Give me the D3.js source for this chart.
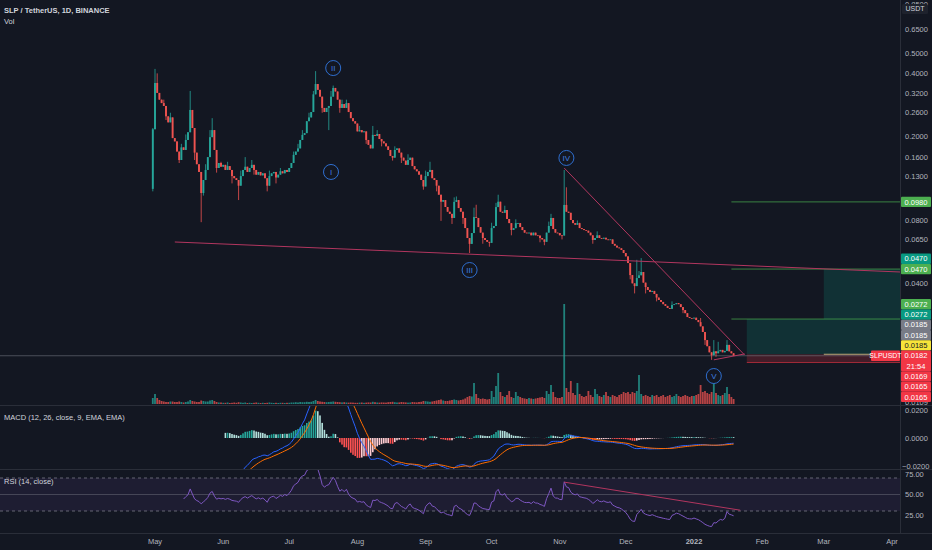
<!DOCTYPE html>
<html>
<head>
<meta charset="utf-8">
<script src="https://cdn.jsdelivr.net/npm/d3@7"></script>
<style>
  html, body { margin: 0; padding: 0; background: #131722; }
  svg { display: block; font-family: "Liberation Sans", Arial, sans-serif; }
</style>
</head>
<body>
<main></main>
<script>
const width = 932;
const height = 550;
const axisX = 900;
const mainPane = [0, 405];
const macdPane = [406, 469];
const rsiPane = [470, 533];

// daily SLP/USDT candles, first one on 30 Apr 2021
const startDay = Date.UTC(2021, 3, 30);
const firstOpen = 0.113;
const closes = [
  0.217, 0.360, 0.323, 0.300, 0.289, 0.280, 0.250, 0.234, 0.247, 0.197,
  0.190, 0.170, 0.155, 0.178, 0.173, 0.193, 0.210, 0.268, 0.220, 0.168,
  0.148, 0.136, 0.108, 0.1245, 0.139, 0.160, 0.199, 0.215, 0.173, 0.142,
  0.150, 0.144, 0.147, 0.139, 0.145, 0.139, 0.130, 0.127, 0.1245, 0.117,
  0.130, 0.139, 0.144, 0.136, 0.142, 0.147, 0.139, 0.132, 0.136, 0.131,
  0.134, 0.127, 0.117, 0.130, 0.134, 0.136, 0.128, 0.132, 0.137, 0.134,
  0.139, 0.136, 0.142, 0.150, 0.164, 0.170, 0.176, 0.193, 0.204, 0.208,
  0.237, 0.247, 0.262, 0.318, 0.356, 0.334, 0.310, 0.274, 0.262, 0.274,
  0.280, 0.310, 0.341, 0.328, 0.300, 0.274, 0.286, 0.274, 0.289, 0.262,
  0.245, 0.237, 0.231, 0.212, 0.215, 0.210, 0.212, 0.193, 0.183, 0.176,
  0.204, 0.202, 0.206, 0.195, 0.190, 0.186, 0.180, 0.173, 0.162, 0.159,
  0.173, 0.176, 0.168, 0.159, 0.154, 0.147, 0.155, 0.159, 0.145, 0.140,
  0.137, 0.132, 0.1245, 0.116, 0.130, 0.136, 0.139, 0.127, 0.1245, 0.117,
  0.106, 0.0982, 0.100, 0.0927, 0.088, 0.086, 0.0822, 0.098, 0.100, 0.0916,
  0.088, 0.0822, 0.0736, 0.066, 0.0619, 0.0697, 0.083, 0.0822, 0.0744, 0.0700,
  0.0660, 0.0646, 0.0633, 0.0626, 0.0736, 0.0753, 0.0926, 0.0982, 0.088, 0.087,
  0.0897, 0.0813, 0.0777, 0.0721, 0.0735, 0.0777, 0.0777, 0.0744, 0.0720, 0.0700,
  0.0697, 0.0700, 0.0680, 0.0700, 0.0680, 0.0678, 0.0660, 0.0650, 0.0633, 0.0700,
  0.0753, 0.0822, 0.0728, 0.0700, 0.0697, 0.0680, 0.0678, 0.0948, 0.0880, 0.0870,
  0.0804, 0.0777, 0.0763, 0.0777, 0.0736, 0.0728, 0.0720, 0.0715, 0.0700, 0.0680,
  0.0646, 0.0660, 0.0680, 0.0660, 0.0655, 0.0662, 0.0650, 0.0646, 0.0650, 0.0619,
  0.0607, 0.0595, 0.0590, 0.0579, 0.0560, 0.0540, 0.0502, 0.0440, 0.0402, 0.0390,
  0.0426, 0.0439, 0.0455, 0.0405, 0.0386, 0.0374, 0.0366, 0.0370, 0.0358, 0.0344,
  0.0335, 0.0328, 0.0320, 0.0314, 0.0307, 0.0304, 0.0317, 0.0320, 0.0324, 0.0320,
  0.0310, 0.0300, 0.0290, 0.0278, 0.0275, 0.0274, 0.0276, 0.0269, 0.0263, 0.0251,
  0.0236, 0.0216, 0.0202, 0.0189, 0.0183, 0.0191, 0.0187, 0.0191, 0.0194, 0.0189,
  0.0192, 0.0205, 0.0191, 0.0187, 0.0182
];
const volumes = [
  60, 100, 60, 40, 30, 25, 20, 20, 25, 25, 20, 20, 25, 20, 15, 20, 25, 40, 30, 25,
  20, 20, 35, 30, 25, 25, 35, 40, 30, 20, 15,
  15, 12, 12, 15, 10, 12, 15, 12, 18, 15, 12, 15, 10, 12, 10, 12, 15, 12, 10, 12,
  10, 12, 15, 12, 10, 12, 10, 12, 12, 10, 12,
  12, 15, 15, 18, 15, 20, 18, 18, 22, 20, 22, 30, 40, 30, 25, 22, 20, 18, 20, 22,
  25, 22, 20, 18, 16, 18, 15, 14, 15, 14, 12,
  12, 14, 15, 12, 14, 16, 15, 22, 18, 15, 14, 16, 15, 14, 18, 20, 22, 18, 15, 16,
  20, 18, 16, 14, 15, 20, 18, 16, 20, 22, 30,
  28, 25, 22, 25, 30, 35, 40, 45, 35, 30, 30, 35, 40, 45, 40, 35, 40, 45, 55, 70,
  80, 75, 210, 100, 60, 50, 55, 50, 45, 50,
  130, 70, 180, 310, 120, 80, 70, 90, 130, 70, 60, 120, 80, 70, 60, 55, 50, 60, 55, 50,
  55, 60, 65, 70, 60, 130, 100, 190, 120, 70, 60,
  60, 70, 1000, 160, 120, 230, 110, 90, 210, 100, 80, 70, 80, 130, 90, 70, 150, 100, 80, 70,
  90, 120, 80, 70, 90, 80, 70, 90, 100, 120,
  110, 120, 100, 120, 110, 130, 290, 100, 80, 90, 80, 70, 90, 80, 90, 70, 80, 90, 70, 80,
  90, 70, 80, 100, 80, 70, 80, 90, 80, 70, 80,
  80, 90, 100, 190, 120, 130, 110, 100, 120, 210, 110, 90, 80, 90, 110, 170, 100, 70, 50
];
// [day index, price] for the wicks that stick out of the bodies
const wickHighs = [
  [0, 0.22], [1, 0.42], [2, 0.40], [5, 0.30], [8, 0.26], [13, 0.185], [15, 0.205], [17, 0.33],
  [24, 0.148], [26, 0.215], [27, 0.245], [31, 0.152], [34, 0.152], [40, 0.138], [42, 0.16],
  [45, 0.155], [53, 0.138], [58, 0.142], [64, 0.17], [66, 0.185], [68, 0.215], [71, 0.26],
  [73, 0.33], [74, 0.41], [81, 0.33], [82, 0.35], [86, 0.30], [88, 0.30], [94, 0.225],
  [100, 0.225], [102, 0.215], [110, 0.18], [116, 0.165], [124, 0.138], [126, 0.152],
  [137, 0.103], [138, 0.104], [146, 0.092], [147, 0.095], [154, 0.078], [156, 0.097],
  [157, 0.106], [160, 0.094], [165, 0.081], [180, 0.079], [181, 0.086], [187, 0.139],
  [188, 0.115], [193, 0.080], [194, 0.078], [202, 0.071], [220, 0.052], [221, 0.046],
  [222, 0.053], [236, 0.033], [249, 0.0275], [255, 0.0216], [257, 0.0212], [261, 0.0216]
];
const wickLows = [
  [0, 0.11], [6, 0.24], [12, 0.150], [19, 0.155], [22, 0.0785], [23, 0.105], [29, 0.135],
  [36, 0.12], [39, 0.100], [46, 0.132], [52, 0.110], [56, 0.12], [77, 0.26], [80, 0.215],
  [85, 0.26], [97, 0.185], [104, 0.18], [109, 0.154], [113, 0.15], [123, 0.112], [129, 0.11],
  [131, 0.0796], [136, 0.077], [141, 0.077], [144, 0.056], [150, 0.062], [153, 0.060],
  [163, 0.068], [176, 0.063], [178, 0.061], [186, 0.065], [200, 0.062], [217, 0.042],
  [219, 0.036], [224, 0.036], [229, 0.033], [241, 0.029], [251, 0.0205], [254, 0.0174], [256, 0.018]
];

const priceTicks = [0.85, 0.65, 0.5, 0.4, 0.32, 0.26, 0.2, 0.16, 0.13, 0.08, 0.065, 0.04, 0.0109];
const macdTicks = [0.02, 0, -0.02];
const rsiTicks = [75, 50, 25];
const monthLabels = ['May', 'Jun', 'Jul', 'Aug', 'Sep', 'Oct', 'Nov', 'Dec', '2022', 'Feb', 'Mar', 'Apr'];
const monthDates = [
  [2021, 4], [2021, 5], [2021, 6], [2021, 7], [2021, 8], [2021, 9], [2021, 10], [2021, 11],
  [2022, 0], [2022, 1], [2022, 2], [2022, 3]
];

const waveLabels = [
  { text: 'I', day: 81, price: 0.136 },
  { text: 'II', day: 82, price: 0.424 },
  { text: 'III', day: 144, price: 0.0465 },
  { text: 'IV', day: 188, price: 0.1585 },
  { text: 'V', day: 255, price: 0.01458 }
];
const trendLines = [
  { from: [10, 0.0632], to: [340, 0.0455] },
  { from: [187, 0.142], to: [269, 0.01835] },
  { from: [255, 0.0174], to: [269, 0.01857] }
];
const rsiTrend = { from: [187, 65], to: [267, 31] };

const levelStart = 263;
const levelLines = [0.098, 0.047, 0.0272];
const zones = [
  { day: 270, top: 0.0272, bottom: 0.0185, kind: 'target' },
  { day: 305, top: 0.047, bottom: 0.0272, kind: 'target' },
  { day: 270, top: 0.0185, bottom: 0.0169, kind: 'stop' }
];
const entryLine = { day: 305, price: 0.0185 };
const lastPrice = 0.0182;

// right-hand price tags, top to bottom
const tagValues = [0.098, 0.047, 0.047, 0.0272, 0.0272, 0.0185, 0.0185, 0.0185, 0.0182, 0.0169, 0.0165, 0.0165];
const tagColors = ['#4caf50', '#089981', '#4caf50', '#4caf50', '#089981', '#787b86', '#787b86', '#f7e43a',
                   '#f23645', '#f23645', '#f23645', '#f23645'];
const lastTagIndex = 8;

let svg;

const dayDate = (i) => new Date(startDay + i * 86400000);

const createSvg = () => {
  return d3.select('main')
    .append('svg')
    .attr('width', width)
    .attr('height', height)
    .style('background', '#131722');
};

const createScales = () => {
  const x = d3.scaleUtc()
    .domain([new Date(startDay), new Date(Date.UTC(2022, 3, 1))])
    .range([152.8, 892]);
  const y = d3.scaleLog().domain([0.65, 0.0109]).range([29, 402.6]);
  const vol = d3.scaleLinear().domain([0, 1000]).range([404, 304]);
  const macd = d3.scaleLinear().domain([-0.02, 0.02]).range([466, 410]);
  const rsi = d3.scaleLinear().domain([30, 70]).range([511, 478]);
  return { x, y, vol, macd, rsi };
};

const buildCandles = () => {
  const hi = new Map(wickHighs);
  const lo = new Map(wickLows);
  return closes.map((c, i) => {
    const o = i === 0 ? firstOpen : closes[i - 1];
    return {
      date: dayDate(i), open: o, close: c,
      high: Math.max(o, c, hi.has(i) ? hi.get(i) : 0),
      low: Math.min(o, c, lo.has(i) ? lo.get(i) : 1),
      volume: volumes[i]
    };
  });
};

const ema = (vals, n) => {
  const out = vals.map(() => null);
  const start = vals.findIndex((v) => v !== null);
  const k = 2 / (n + 1);
  let prev = d3.mean(vals.slice(start, start + n));
  out[start + n - 1] = prev;
  for (let i = start + n; i < vals.length; i++) {
    prev = vals[i] * k + prev * (1 - k);
    out[i] = prev;
  }
  return out;
};

const calcRsi = (vals, n) => {
  const out = vals.map(() => null);
  let g = 0, l = 0;
  for (let i = 1; i <= n; i++) {
    const d = vals[i] - vals[i - 1];
    g += Math.max(d, 0); l += Math.max(-d, 0);
  }
  g /= n; l /= n;
  out[n] = 100 - 100 / (1 + g / l);
  for (let i = n + 1; i < vals.length; i++) {
    const d = vals[i] - vals[i - 1];
    g = (g * (n - 1) + Math.max(d, 0)) / n;
    l = (l * (n - 1) + Math.max(-d, 0)) / n;
    out[i] = l === 0 ? 100 : 100 - 100 / (1 + g / l);
  }
  return out;
};

const createClips = () => {
  const defs = svg.append('defs');
  [['clip-main', mainPane], ['clip-macd', macdPane], ['clip-rsi', rsiPane]].forEach(([id, p]) => {
    defs.append('clipPath').attr('id', id)
      .append('rect').attr('x', 0).attr('y', p[0]).attr('width', axisX).attr('height', p[1] - p[0]);
  });
};

const createFrame = () => {
  [macdPane[0] - 0.5, rsiPane[0] - 0.5, rsiPane[1] + 0.5].forEach((yy) => {
    svg.append('line').attr('x1', 0).attr('x2', width).attr('y1', yy).attr('y2', yy)
      .attr('stroke', '#2a2e39').attr('stroke-width', 1);
  });
  svg.append('line').attr('x1', axisX + 0.5).attr('x2', axisX + 0.5).attr('y1', 0).attr('y2', rsiPane[1])
    .attr('stroke', '#2a2e39');
};

const createMain = (candles, s) => {
  const g = svg.append('g').attr('clip-path', 'url(#clip-main)');
  const up = '#26a69a', down = '#ef5350';

  // position zones and level lines
  zones.forEach((z) => {
    g.append('rect')
      .attr('x', s.x(dayDate(z.day))).attr('width', axisX - s.x(dayDate(z.day)))
      .attr('y', s.y(z.top)).attr('height', s.y(z.bottom) - s.y(z.top))
      .attr('fill', z.kind === 'target' ? 'rgba(8,153,129,0.2)' : 'rgba(242,54,69,0.22)');
  });
  g.append('line')
    .attr('x1', s.x(dayDate(zones[2].day))).attr('x2', axisX)
    .attr('y1', s.y(zones[2].bottom)).attr('y2', s.y(zones[2].bottom))
    .attr('stroke', 'rgba(242,54,69,0.6)');
  g.selectAll('.level').data(levelLines).enter().append('line')
    .attr('x1', s.x(dayDate(levelStart))).attr('x2', axisX)
    .attr('y1', (d) => s.y(d)).attr('y2', (d) => s.y(d))
    .attr('stroke', 'rgba(76,175,80,0.7)').attr('stroke-width', 1);
  g.append('line')
    .attr('x1', s.x(dayDate(entryLine.day))).attr('x2', axisX)
    .attr('y1', s.y(entryLine.price)).attr('y2', s.y(entryLine.price))
    .attr('stroke', '#b8a87a').attr('stroke-width', 1.2);

  // last price line
  g.append('line').attr('x1', 0).attr('x2', axisX)
    .attr('y1', s.y(lastPrice)).attr('y2', s.y(lastPrice))
    .attr('stroke', 'rgba(120,123,134,0.55)').attr('stroke-width', 1);

  // volume
  g.selectAll('.vol').data(candles).enter().append('rect')
    .attr('x', (d) => s.x(d.date) - 0.9).attr('width', 1.8)
    .attr('y', (d) => s.vol(d.volume)).attr('height', (d) => s.vol(0) - s.vol(d.volume))
    .attr('fill', (d) => d.close >= d.open ? up : down).attr('opacity', 0.75);

  // candles
  g.selectAll('.wick').data(candles).enter().append('line')
    .attr('x1', (d) => s.x(d.date)).attr('x2', (d) => s.x(d.date))
    .attr('y1', (d) => s.y(d.high)).attr('y2', (d) => s.y(d.low))
    .attr('stroke', (d) => d.close >= d.open ? up : down).attr('stroke-width', 0.8);
  g.selectAll('.body').data(candles).enter().append('rect')
    .attr('x', (d) => s.x(d.date) - 0.95).attr('width', 1.9)
    .attr('y', (d) => s.y(Math.max(d.open, d.close)))
    .attr('height', (d) => Math.max(0.8, Math.abs(s.y(d.open) - s.y(d.close))))
    .attr('fill', (d) => d.close >= d.open ? up : down);

  // drawings
  g.selectAll('.trend').data(trendLines).enter().append('line')
    .attr('x1', (d) => s.x(dayDate(d.from[0]))).attr('y1', (d) => s.y(d.from[1]))
    .attr('x2', (d) => s.x(dayDate(d.to[0]))).attr('y2', (d) => s.y(d.to[1]))
    .attr('stroke', '#b2365f').attr('stroke-width', 1);

  const w = g.selectAll('.wave').data(waveLabels).enter().append('g')
    .attr('transform', (d) => `translate(${s.x(dayDate(d.day))},${s.y(d.price)})`);
  w.append('circle').attr('r', 7.5).attr('fill', '#131722')
    .attr('stroke', '#2f6fd0').attr('stroke-width', 1);
  w.append('text').attr('text-anchor', 'middle').attr('dy', '0.36em')
    .attr('font-size', 8).attr('fill', '#3f7fe0').text((d) => d.text);
};

const createMacd = (s) => {
  const fast = ema(closes, 12);
  const slow = ema(closes, 26);
  const macd = closes.map((c, i) => fast[i] !== null && slow[i] !== null ? fast[i] - slow[i] : null);
  const signal = ema(macd, 9);
  const rows = macd.map((m, i) => ({ date: dayDate(i), macd: m, signal: signal[i],
    hist: m !== null && signal[i] !== null ? m - signal[i] : null }));
  const g = svg.append('g').attr('clip-path', 'url(#clip-macd)');

  const hist = rows.filter((d) => d.hist !== null);
  g.selectAll('.hist').data(hist).enter().append('rect')
    .attr('x', (d) => s.x(d.date) - 0.8).attr('width', 1.6)
    .attr('y', (d) => s.macd(Math.max(0, d.hist)))
    .attr('height', (d) => Math.abs(s.macd(d.hist) - s.macd(0)))
    .attr('fill', (d, i) => {
      const prev = i > 0 ? hist[i - 1].hist : d.hist;
      if (d.hist >= 0) return prev < d.hist ? '#26a69a' : '#b2dfdb';
      return prev < d.hist ? '#ffcdd2' : '#ff5252';
    });

  const lineOf = (key) => d3.line().defined((d) => d[key] !== null)
    .x((d) => s.x(d.date)).y((d) => s.macd(d[key]));
  g.append('path').datum(rows).attr('d', lineOf('macd'))
    .attr('fill', 'none').attr('stroke', '#2962ff').attr('stroke-width', 1);
  g.append('path').datum(rows).attr('d', lineOf('signal'))
    .attr('fill', 'none').attr('stroke', '#ff6d00').attr('stroke-width', 1);
};

const createRsi = (s) => {
  const rsi = calcRsi(closes, 14);
  const rows = rsi.map((r, i) => ({ date: dayDate(i), rsi: r }));
  const g = svg.append('g').attr('clip-path', 'url(#clip-rsi)');
  g.append('rect').attr('x', 0).attr('width', axisX)
    .attr('y', s.rsi(70)).attr('height', s.rsi(30) - s.rsi(70))
    .attr('fill', 'rgba(126,87,194,0.1)');
  [70, 30].forEach((v) => {
    g.append('line').attr('x1', 0).attr('x2', axisX).attr('y1', s.rsi(v)).attr('y2', s.rsi(v))
      .attr('stroke', '#787b86').attr('stroke-dasharray', '3,3').attr('opacity', 0.8);
  });
  g.append('line').attr('x1', 0).attr('x2', axisX).attr('y1', s.rsi(50)).attr('y2', s.rsi(50))
    .attr('stroke', 'rgba(120,123,134,0.45)');
  g.append('path').datum(rows)
    .attr('d', d3.line().defined((d) => d.rsi !== null).x((d) => s.x(d.date)).y((d) => s.rsi(d.rsi)))
    .attr('fill', 'none').attr('stroke', '#7e57c2').attr('stroke-width', 1);
  g.append('line')
    .attr('x1', s.x(dayDate(rsiTrend.from[0]))).attr('y1', s.rsi(rsiTrend.from[1]))
    .attr('x2', s.x(dayDate(rsiTrend.to[0]))).attr('y2', s.rsi(rsiTrend.to[1]))
    .attr('stroke', '#b2365f').attr('stroke-width', 1);
};

const createAxes = (s) => {
  const label = (x, y, t, anchor) => svg.append('text')
    .attr('x', x).attr('y', y).attr('dy', '0.35em').attr('text-anchor', anchor || 'start')
    .attr('font-size', 7.5).attr('fill', '#b2b5be').text(t);
  priceTicks.forEach((v) => label(905, s.y(v), d3.format('.4f')(v)));
  macdTicks.forEach((v) => label(v < 0 ? 902 : 905, s.macd(v), d3.format('.4f')(v).replace('-', '−')));
  rsiTicks.forEach((v) => label(905, s.rsi(v), d3.format('.2f')(v)));
  monthLabels.forEach((m, i) => {
    label(s.x(new Date(Date.UTC(monthDates[i][0], monthDates[i][1], 1))), 541, m, 'middle')
      .attr('font-weight', m === '2022' ? 'bold' : null);
  });

  // USDT unit box
  svg.append('rect').attr('x', 902).attr('y', 4).attr('width', 26).attr('height', 10)
    .attr('rx', 1.5).attr('fill', '#1e222d');
  svg.append('text').attr('x', 915).attr('y', 9).attr('dy', '0.35em').attr('text-anchor', 'middle')
    .attr('font-size', 7).attr('fill', '#d1d4dc').text('USDT');
};

const createTags = (s) => {
  const h = 10.3;
  const pos = tagValues.map((v) => s.y(v));
  const lastTop = pos[lastTagIndex] - h / 2;
  const lastBottom = lastTop + 2 * h;
  let edge = lastTop;
  for (let i = lastTagIndex - 1; i >= 0; i--) {
    pos[i] = Math.min(pos[i], edge - h / 2);
    edge = pos[i] - h / 2;
  }
  edge = lastBottom;
  for (let i = lastTagIndex + 1; i < tagValues.length; i++) {
    pos[i] = Math.max(pos[i], edge + h / 2);
    edge = pos[i] + h / 2;
  }
  tagValues.forEach((v, i) => {
    const top = pos[i] - h / 2;
    svg.append('rect').attr('x', 901).attr('y', top).attr('width', 30)
      .attr('height', i === lastTagIndex ? 2 * h : h).attr('rx', 1).attr('fill', tagColors[i]);
    svg.append('text').attr('x', 916).attr('y', pos[i]).attr('dy', '0.35em').attr('text-anchor', 'middle')
      .attr('font-size', 7.5).attr('fill', tagColors[i] === '#f7e43a' ? '#131722' : '#ffffff')
      .text(d3.format('.4f')(v));
  });
  svg.append('text').attr('x', 916).attr('y', pos[lastTagIndex] + h).attr('dy', '0.35em')
    .attr('text-anchor', 'middle').attr('font-size', 7.5).attr('fill', '#ffffff').text('21:54');
  svg.append('rect').attr('x', 871).attr('y', pos[lastTagIndex] - h / 2).attr('width', 29).attr('height', h)
    .attr('rx', 1).attr('fill', '#f23645');
  svg.append('text').attr('x', 885.5).attr('y', pos[lastTagIndex]).attr('dy', '0.35em')
    .attr('text-anchor', 'middle').attr('font-size', 7).attr('fill', '#ffffff').text('SLPUSDT');
};

const createTitles = () => {
  const t = (y, txt, weight) => svg.append('text').attr('x', 4).attr('y', y).attr('dy', '0.35em')
    .attr('font-size', 7.5).attr('fill', '#d1d4dc').attr('font-weight', weight || null).text(txt);
  t(10, 'SLP / TetherUS, 1D, BINANCE', 'bold');
  t(21, 'Vol');
  t(417, 'MACD (12, 26, close, 9, EMA, EMA)');
  t(481, 'RSI (14, close)');
};

const driver = () => {
  svg = createSvg();
  createClips();
  const scales = createScales();
  const candles = buildCandles();
  createFrame();
  createMain(candles, scales);
  createMacd(scales);
  createRsi(scales);
  createAxes(scales);
  createTags(scales);
  createTitles();
};
driver();
</script>
</body>
</html>
